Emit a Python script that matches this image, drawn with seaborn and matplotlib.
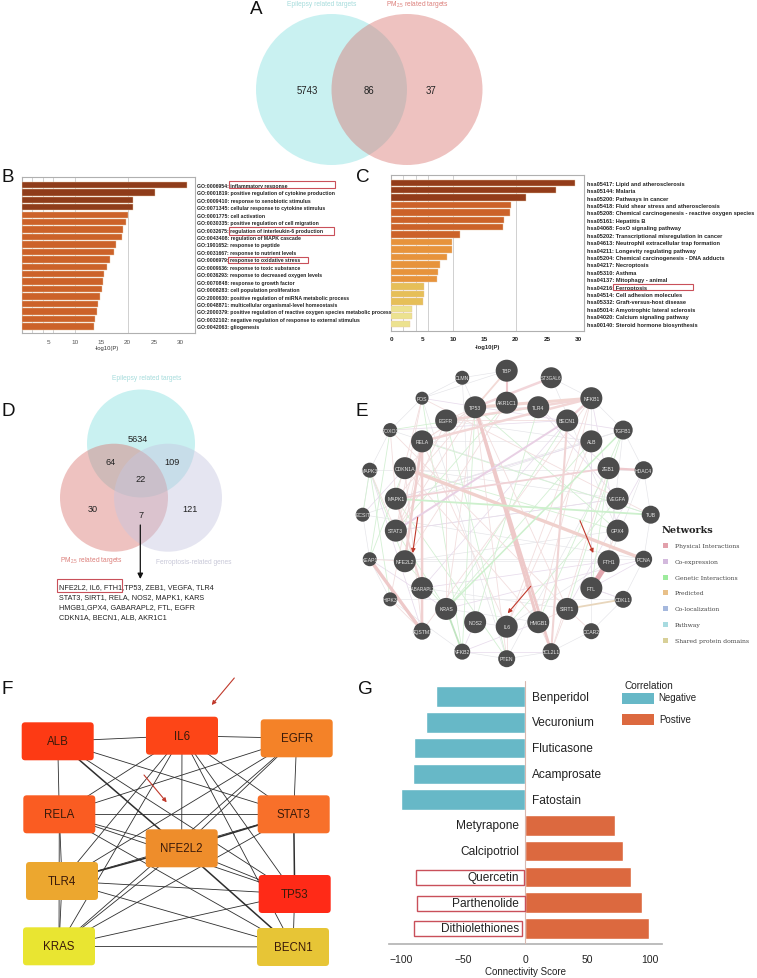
import numpy as np
import pandas as pd
import seaborn as sns
import matplotlib
matplotlib.use("Agg")
import matplotlib.pyplot as plt
from matplotlib.patches import Circle, Rectangle, FancyBboxPatch

W, H = 757, 979
sns.set_theme(style="white")
plt.rcParams['font.family'] = ['Liberation Sans', 'DejaVu Sans']
plt.rcParams['mathtext.default'] = 'regular'

# ---------- data ----------
go_terms = ["GO:0006954: inflammatory response", "GO:0001819: positive regulation of cytokine production",
            "GO:0009410: response to xenobiotic stimulus", "GO:0071345: cellular response to cytokine stimulus",
            "GO:0001775: cell activation", "GO:0030335: positive regulation of cell migration",
            "GO:0032675: regulation of interleukin-6 production", "GO:0043408: regulation of MAPK cascade",
            "GO:1901652: response to peptide", "GO:0031667: response to nutrient levels",
            "GO:0006979: response to oxidative stress", "GO:0009636: response to toxic substance",
            "GO:0036293: response to decreased oxygen levels", "GO:0070848: response to growth factor",
            "GO:0008283: cell population proliferation", "GO:2000630: positive regulation of miRNA metabolic process",
            "GO:0048871: multicellular organismal-level homeostasis",
            "GO:2000379: positive regulation of reactive oxygen species metabolic process",
            "GO:0032102: negative regulation of response to external stimulus", "GO:0042063: gliogenesis"]
go_values = [31.1, 25.2, 21.0, 20.9, 20.0, 19.7, 19.2, 19.0, 17.7, 17.5, 16.6, 16.1, 15.6, 15.4, 15.2, 14.7, 14.4, 14.2, 13.8, 13.7]
go_colors = ["#8f3c1a"] * 4 + ["#cc6229"] * 16

kegg_terms = ["hsa05417: Lipid and atherosclerosis", "hsa05144: Malaria", "hsa05200: Pathways in cancer",
              "hsa05418: Fluid shear stress and atherosclerosis", "hsa05208: Chemical carcinogenesis - reactive oxygen species",
              "hsa05161: Hepatitis B", "hsa04068: FoxO signaling pathway", "hsa05202: Transcriptional misregulation in cancer",
              "hsa04613: Neutrophil extracellular trap formation", "hsa04211: Longevity regulating pathway",
              "hsa05204: Chemical carcinogenesis - DNA adducts", "hsa04217: Necroptosis", "hsa05310: Asthma",
              "hsa04137: Mitophagy - animal", "hsa04216: Ferroptosis", "hsa04514: Cell adhesion molecules",
              "hsa05332: Graft-versus-host disease", "hsa05014: Amyotrophic lateral sclerosis",
              "hsa04020: Calcium signaling pathway", "hsa00140: Steroid hormone biosynthesis"]
kegg_values = [29.5, 26.5, 21.7, 19.2, 19.1, 18.2, 17.9, 11.1, 9.8, 9.8, 9.0, 7.8, 7.6, 7.3, 5.3, 5.3, 5.2, 3.3, 3.3, 3.1]
kegg_colors = ["#933c1a"] * 3 + ["#cc6229"] * 5 + ["#e7933b"] * 6 + ["#e6bf58"] * 3 + ["#ece28f"] * 3

drugs = ["Benperidol", "Vecuronium", "Fluticasone", "Acamprosate", "Fatostain",
         "Metyrapone", "Calcipotriol", "Quercetin", "Parthenolide", "Dithiolethiones"]
drug_scores = [-72, -80, -90, -91, -100, 72, 79, 85, 94, 100]
drug_corr = ["Negative"] * 5 + ["Postive"] * 5
corr_palette = {"Negative": "#67b8c7", "Postive": "#dc693f"}

venn_a_counts = ["5743", "86", "37"]
venn_d_counts = ["5634", "64", "109", "22", "30", "7", "121"]
gene_lines = ["NFE2L2, IL6, FTH1,TP53, ZEB1, VEGFA, TLR4", "STAT3, SIRT1, RELA, NOS2, MAPK1, KARS",
              "HMGB1,GPX4, GABARAPL2, FTL, EGFR", "CDKN1A, BECN1, ALB, AKR1C1"]

outer_genes = ["TBP", "ST3GAL6", "NFKB1", "TGFB1", "HDAC4", "TUB", "PCNA", "CDKL1", "CCAR2", "BCL2L1",
               "PTEN", "NFKB2", "SQSTM1", "HIPK3", "KEAP1", "ECSIT", "MAPK3", "FOXO3", "FOS", "CLMN"]
outer_radii = [11, 10.5, 11, 9.5, 9, 9, 8.5, 8.5, 8, 8.5, 8.5, 8, 8.5, 7, 7, 7, 7.5, 7, 6.5, 7]
inner_genes = ["AKR1C1", "TLR4", "BECN1", "ALB", "ZEB1", "VEGFA", "GPX4", "FTH1", "FTL", "SIRT1", "HMGB1",
               "IL6", "NOS2", "KRAS", "GABARAPL2", "NFE2L2", "STAT3", "MAPK1", "CDKN1A", "RELA", "EGFR", "TP53"]
inner_radii = [11] * 22

thick_edges = [("FTH1", "FTL", 3.6, "#e2a6ae"), ("SQSTM1", "KEAP1", 2.4, "#eec9c9"), ("TP53", "HMGB1", 2.2, "#eec9c9"),
               ("TP53", "BCL2L1", 2.0, "#eec9c9"), ("CDKN1A", "PCNA", 2.4, "#f0d0cc"), ("TP53", "NFKB1", 2.2, "#f2d6d2"),
               ("EGFR", "NFKB1", 1.7, "#f2d6d6"), ("RELA", "NFKB1", 1.8, "#f2d6d6"), ("RELA", "SQSTM1", 1.8, "#f0d0d0"),
               ("ZEB1", "HDAC4", 1.7, "#eec9cd"), ("AKR1C1", "TBP", 1.5, "#eec9cd"), ("STAT3", "BECN1", 1.4, "#e8d0e4"),
               ("MAPK1", "ZEB1", 1.3, "#f0d2d6"), ("SIRT1", "CDKL1", 1.3, "#e8d6bc"), ("KRAS", "NFKB2", 1.3, "#c0e4c0"),
               ("TUB", "MAPK1", 1.3, "#cdf0cd"), ("TP53", "TBP", 1.3, "#f2dad6"), ("ST3GAL6", "TP53", 1.8, "#f2d6da"),
               ("RELA", "NFE2L2", 1.8, "#f0d0d0"), ("NFKB1", "BECN1", 1.7, "#f2d6da"), ("BECN1", "BCL2L1", 1.5, "#f0d4d4"),
               ("MAPK1", "GABARAPL2", 1.3, "#f0d6d6"), ("TGFB1", "KRAS", 1.1, "#cdf0cd")]
pink_edges = ("TP53-STAT3 TP53-MAPK1 TP53-RELA TP53-EGFR TP53-SIRT1 TP53-CDKN1A TP53-PTEN TP53-KRAS AKR1C1-NFE2L2 "
              "RELA-IL6 RELA-STAT3 RELA-TP53 RELA-HIPK3 EGFR-STAT3 EGFR-KRAS EGFR-BECN1 FOS-MAPK1 FOS-STAT3 FOXO3-SIRT1 "
              "FOXO3-MAPK1 NFKB1-HMGB1 NFKB1-IL6 NFKB1-SQSTM1 KEAP1-NFE2L2 CDKN1A-HMGB1 CDKN1A-SQSTM1 HMGB1-SIRT1 "
              "BCL2L1-SIRT1 BCL2L1-HMGB1 BCL2L1-TP53 PTEN-IL6 ALB-IL6 FTL-GPX4 ZEB1-BCL2L1 MAPK3-STAT3 HIPK3-SQSTM1 "
              "GABARAPL2-SQSTM1 CCAR2-SIRT1 TUB-FOS").split()
green_edges = ("MAPK3-NFE2L2 MAPK3-HIPK3 FOS-NFKB2 EGFR-PTEN TP53-NFKB2 AKR1C1-STAT3 RELA-TUB ZEB1-FTL TGFB1-SIRT1 "
               "VEGFA-IL6 TGFB1-HMGB1 BECN1-KRAS ALB-KRAS MAPK1-PTEN FOXO3-KEAP1 CDKN1A-KEAP1 STAT3-KRAS NFE2L2-KRAS "
               "ECSIT-MAPK3 TLR4-NOS2 TLR4-FOXO3 TP53-GPX4 GPX4-CDKN1A").split()
purple_edges = ("BECN1-FOXO3 ALB-FTL FTL-CDKL1 NFKB2-NOS2 NFKB2-BCL2L1 KRAS-PCNA GABARAPL2-FTH1 TGFB1-FOS ZEB1-TLR4 "
                "VEGFA-TLR4 VEGFA-STAT3 HMGB1-NFKB2 GPX4-NFKB1 ECSIT-CDKN1A MAPK3-SQSTM1 KEAP1-KRAS HDAC4-SIRT1 "
                "PCNA-FTL ALB-MAPK1 BECN1-GABARAPL2").split()
gray_edges = ("TBP-CLMN CLMN-FOS CLMN-TP53 TBP-FOS ST3GAL6-NFKB1 FOS-FOXO3 FOXO3-MAPK3 MAPK3-ECSIT ECSIT-KEAP1 KEAP1-HIPK3 "
              "HIPK3-NFKB2 NFKB2-PTEN PTEN-BCL2L1 BCL2L1-CCAR2 CCAR2-CDKL1 CDKL1-PCNA PCNA-TUB TUB-HDAC4 HDAC4-TGFB1 "
              "TGFB1-NFKB1 FOXO3-TUB ECSIT-TGFB1 ECSIT-PCNA MAPK3-HDAC4 KEAP1-PCNA HIPK3-CDKL1 TGFB1-FTH1 HDAC4-FTH1 "
              "FOS-PTEN CLMN-NOS2 ST3GAL6-GPX4 NFKB1-FTL ALB-CCAR2 ZEB1-PTEN FTH1-IL6 NFE2L2-GPX4 STAT3-VEGFA CDKN1A-VEGFA "
              "MAPK1-TGFB1 RELA-ALB EGFR-ALB TP53-TLR4 GABARAPL2-SIRT1 NOS2-IL6 KRAS-HMGB1 NFE2L2-FTH1 CDKL1-FTL").split()

network_legend = [("Physical Interactions", "#e2a0ab"), ("Co-expression", "#d3b9dd"), ("Genetic Interactions", "#9deb9d"),
                  ("Predicted", "#e8c089"), ("Co-localization", "#a5b8dd"), ("Pathway", "#a8dbe0"),
                  ("Shared protein domains", "#d8d098")]

hub_genes = ["ALB", "IL6", "EGFR", "RELA", "STAT3", "NFE2L2", "TLR4", "TP53", "KRAS", "BECN1"]
hub_colors = ["#fd3a14", "#fd4517", "#f48228", "#fa5c22", "#f8702a", "#ee8d2b", "#eca72f", "#ff2a17", "#e9e531", "#e7c536"]
hub_x = [57.7, 182, 296.7, 59.3, 293.7, 181.7, 62, 294.7, 59, 293]
hub_y = [742.3, 736.7, 739.3, 815.3, 815.3, 849.3, 882, 895, 947.3, 948]
hub_edges = ("ALB-IL6 ALB-RELA ALB-STAT3 ALB-TP53 IL6-EGFR IL6-RELA IL6-TLR4 IL6-KRAS IL6-NFE2L2 IL6-STAT3 IL6-TP53 "
             "IL6-BECN1 EGFR-RELA EGFR-NFE2L2 EGFR-TLR4 EGFR-STAT3 EGFR-KRAS RELA-STAT3 RELA-NFE2L2 RELA-TP53 RELA-TLR4 "
             "RELA-BECN1 STAT3-TLR4 NFE2L2-TP53 NFE2L2-KRAS TLR4-TP53 TLR4-KRAS TLR4-BECN1 KRAS-TP53 KRAS-BECN1 "
             "TP53-BECN1 STAT3-KRAS RELA-KRAS").split()
hub_heavy = "ALB-NFE2L2 NFE2L2-BECN1 NFE2L2-STAT3 NFE2L2-TLR4 STAT3-TP53".split()


# ---------- helpers ----------
def px_axes(l, t, r, b, **kw):
    return fig.add_axes([l / W, 1 - b / H, (r - l) / W, (b - t) / H], **kw)


def enrich(ax, names, values, colors, xmax, ylim, ticks, tickcol, grid, labelsize):
    sns.barplot(x=values, y=names, hue=names, palette=colors, legend=False, dodge=False,
                ax=ax, width=0.86, saturation=1, edgecolor="#e8c8a8", linewidth=0.3, zorder=3)
    ax.set_xlim(0, xmax)
    ax.set_ylim(*ylim)
    ax.yaxis.tick_right()
    ax.set_xticks(ticks)
    ax.set_xlabel("")
    ax.set_ylabel("")
    for g in grid:
        ax.axvline(g, color="#d0d0d0", lw=0.7, zorder=1)
    ax.tick_params(axis="y", length=0, pad=1.6, labelsize=labelsize)
    for t in ax.get_yticklabels():
        t.set_fontweight("bold")
        t.set_color("#222222")
    ax.tick_params(axis="x", length=2, width=0.5, color="#999999", pad=2, labelsize=4.6, labelcolor=tickcol)
    for s in ax.spines.values():
        s.set_color("#b0b0b0")
        s.set_linewidth(0.8)


fig = plt.figure(figsize=(W / 100, H / 100), dpi=100, facecolor="white")

# ---------- B ----------
axB = px_axes(21.6, 178, 194.6, 334)
enrich(axB, go_terms, go_values, go_colors, 32.6, (19.9, -1.07), [5, 10, 15, 20, 25, 30], "#555555", [2, 4, 6, 10, 20], 3.7)

# ---------- C ----------
axC = px_axes(391, 176, 584.3, 331.7)
enrich(axC, kegg_terms, kegg_values, kegg_colors, 31, (19.94, -1.04), [0, 5, 10, 15, 20, 25, 30], "#222222", [2, 4, 6, 10, 20], 4.1)
for t in axC.get_xticklabels():
    t.set_fontweight("bold")

# ---------- G ----------
axG = px_axes(389.3, 682, 662.3, 945.3)
sns.barplot(x=drug_scores, y=drugs, hue=drug_corr, palette=corr_palette, legend=False, dodge=False,
            ax=axG, width=0.8, saturation=1)
axG.set_xlim(-109.8, 110.4)
axG.set_ylim(9.62, -0.61)
axG.set_xticks([-100, -50, 0, 50, 100])
axG.set_yticks([])
axG.set_ylabel("")
axG.set_xlabel("Connectivity Score", fontsize=7, color="#222222", labelpad=1.5)
axG.tick_params(axis="x", length=0, pad=7, labelsize=7.5, labelcolor="#222222")
sns.despine(ax=axG, left=True)
axG.spines["bottom"].set_color("#b5b5b5")
axG.axvline(0, color="#d8b8b0", lw=0.8, zorder=5)
for i, (d, v) in enumerate(zip(drugs, drug_scores)):
    if v < 0:
        axG.text(5.2, i, d, ha="left", va="center", fontsize=8.6, color="#222222")
    else:
        axG.text(-5.2, i, d, ha="right", va="center", fontsize=8.6, color="#222222")

# ---------- overlay in pixel coordinates ----------
ov = fig.add_axes([0, 0, 1, 1], zorder=10)
ov.set_xlim(0, W)
ov.set_ylim(H, 0)
ov.axis("off")
ov.patch.set_alpha(0)


def txt(x, y, s, **kw):
    kw.setdefault("va", "center")
    kw.setdefault("ha", "left")
    kw.setdefault("color", "#222222")
    return ov.text(x, y, s, **kw)


def redbox(x0, y0, x1, y1, lw=0.8):
    ov.add_patch(Rectangle((x0, y0), x1 - x0, y1 - y0, fill=False, ec="#c9505a", lw=lw, zorder=9))


def arrow(x0, y0, x1, y1, col="#c0392b", lw=0.8, ms=6):
    ov.annotate("", xy=(x1, y1), xytext=(x0, y0),
                arrowprops=dict(arrowstyle="-|>", color=col, lw=lw, mutation_scale=ms, shrinkA=0, shrinkB=0), zorder=20)


for s, x, y in [("A", 256.5, 9), ("B", 7.5, 177), ("C", 363, 177), ("D", 8, 412), ("E", 362, 412), ("F", 7, 690), ("G", 365, 690)]:
    txt(x, y, s, fontsize=13.6, ha="center", color="#111111")

cy = "#83dfe0"
pk = "#d9736e"
lv = "#c6c6e0"
# A
ov.add_patch(Circle((331.5, 90.5), 75.5, fc=cy, alpha=0.43, lw=0))
ov.add_patch(Circle((407, 90.5), 75.5, fc=pk, alpha=0.43, lw=0))
txt(321.7, 4.5, "Epilepsy related targets", fontsize=4.8, ha="center", color="#a6dcdc")
txt(386, 4.5, "PM$_{2.5}$ related targets", fontsize=4.8, color="#dc7f7a")
for (x, y), s in zip([(307, 90.5), (369, 90.5), (431, 90.5)], venn_a_counts):
    txt(x, y, s, fontsize=6.9, ha="center")

# D
ov.add_patch(Circle((141, 444.5), 54, fc=cy, alpha=0.43, lw=0))
ov.add_patch(Circle((114, 498.7), 54, fc=pk, alpha=0.43, lw=0))
ov.add_patch(Circle((168, 498.7), 54, fc=lv, alpha=0.45, lw=0))
txt(147, 379, "Epilepsy related targets", fontsize=4.8, ha="center", color="#a6dcdc")
txt(60, 561, "PM$_{2.5}$ related targets", fontsize=4.8, color="#dc7f7a")
txt(193.3, 562.7, "Ferroptosis-related genes", fontsize=4.8, ha="center", color="#c8c8d8")
for (x, y), s in zip([(138, 440), (110.5, 462.5), (172, 462.5), (141, 479.5), (92.5, 510), (141, 515.5), (190, 510)], venn_d_counts):
    txt(x, y, s, fontsize=6.6, ha="center")
arrow(140.3, 526, 140.3, 580, col="#111111", lw=0.9, ms=8)
for i, line in enumerate(gene_lines):
    txt(59, 587.5 + 10 * i, line, fontsize=5.2, color="#222222")
redbox(57.3, 580.3, 121.7, 592.7)

# B, C annotations
redbox(229.3, 181.7, 335.3, 189.3)
redbox(228.7, 228.3, 334.3, 236.3)
redbox(228.3, 258, 308, 264.3)
redbox(613.3, 284.7, 693, 290.7)
txt(107, 349, "-log10(P)", fontsize=4.2, ha="center", color="#333333")
txt(487.3, 347.3, "-log10(P)", fontsize=4.2, ha="center", fontweight="bold", color="#222222")

# E network
cx, cyy, r_out, r_in = 506.7, 515.7, 144.0, 112.0
pos, rad = {}, {}
for genes, radii, R in ((outer_genes, outer_radii, r_out), (inner_genes, inner_radii, r_in)):
    n = len(genes)
    for k, (g, rr) in enumerate(zip(genes, radii)):
        a = 2 * np.pi * k / n
        pos[g] = (cx + R * np.sin(a), cyy - R * np.cos(a))
        rad[g] = rr


def edge(a, b, color, lw, z=2, alpha=1.0):
    ov.plot([pos[a][0], pos[b][0]], [pos[a][1], pos[b][1]], color=color, lw=lw, alpha=alpha, zorder=z, solid_capstyle="butt")


for e in gray_edges:
    edge(*e.split("-"), "#e4e4e8", 0.45)
for e in purple_edges:
    edge(*e.split("-"), "#e8dcec", 0.55)
for e in green_edges:
    edge(*e.split("-"), "#d4f0d4", 0.6)
for e in pink_edges:
    edge(*e.split("-"), "#f2dede", 0.6)
for a, b, w, c in thick_edges:
    edge(a, b, c, w, z=2.5)
for g, (x, y) in pos.items():
    ov.add_patch(Circle((x, y), rad[g], fc="#4c4c4c", ec="none", zorder=4))
    txt(x, y, g, fontsize=3.3 if len(g) > 6 else 3.7, ha="center", color="#e8e8e8", zorder=5)
arrow(417.7, 518.3, 412.7, 554)
arrow(580, 521.7, 593.3, 554)
arrow(530.7, 587.3, 507.7, 614.3)

txt(662, 530.7, "Networks", fontsize=7, fontweight="bold", family="DejaVu Serif", color="#222222")
for i, (name, col) in enumerate(network_legend):
    yy = 546.7 + 15.72 * i
    ov.add_patch(Rectangle((662.7, yy - 2.5), 5, 5, fc=col, ec="none"))
    txt(674.7, yy, name, fontsize=4.4, family="DejaVu Serif", color="#444444")

# F network
hubpos = dict(zip(hub_genes, zip(hub_x, hub_y)))
for e, lw in [(x, 0.6) for x in hub_edges] + [(x, 1.1) for x in hub_heavy]:
    a, b = e.split("-")
    ov.plot([hubpos[a][0], hubpos[b][0]], [hubpos[a][1], hubpos[b][1]], color="#2e2e2e", lw=lw, zorder=2)
for g, c, x, y in zip(hub_genes, hub_colors, hub_x, hub_y):
    ov.add_patch(FancyBboxPatch((x - 33.5, y - 16.5), 67, 33, boxstyle="round,pad=2.5,rounding_size=3.5",
                                fc=c, ec="none", zorder=3))
    txt(x, y, g, fontsize=8.3, ha="center", color="#3a1a0a", zorder=4)
arrow(234.3, 679, 211.7, 706)
arrow(144, 776, 166.7, 803.3)

# G annotations
txt(624.7, 685.7, "Correlation", fontsize=7.2)
ov.add_patch(Rectangle((622, 694), 32.3, 10.7, fc=corr_palette["Negative"], ec="none"))
ov.add_patch(Rectangle((622, 715), 32.3, 10.7, fc=corr_palette["Postive"], ec="none"))
txt(658.3, 698, "Negative", fontsize=7)
txt(659, 720, "Postive", fontsize=7)
redbox(416.3, 870.7, 523.7, 885.7, 1.0)
redbox(417.3, 896.7, 524.7, 911.7, 1.0)
redbox(414, 922.3, 521.7, 937.3, 1.0)

fig.savefig("out.png", dpi=100)
